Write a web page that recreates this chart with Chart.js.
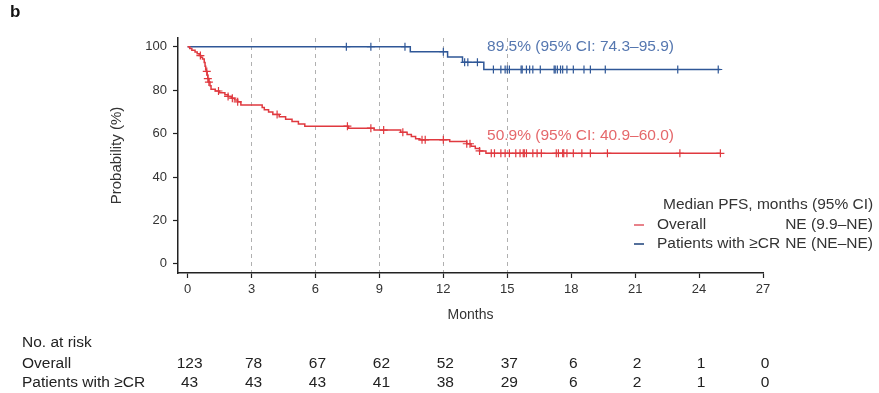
<!DOCTYPE html>
<html>
<head>
<meta charset="utf-8">
<script src="https://cdn.jsdelivr.net/npm/chart.js@4.4.1/dist/chart.umd.min.js"></script>
<style>
  html, body { margin: 0; padding: 0; background: #fff; }
  #wrap { width: 879px; height: 393px; position: relative; }
</style>
</head>
<body>
<div id="wrap"><canvas id="chart" width="879" height="393"></canvas></div>
<script>
// axis ticks (months / percent)
const xTicks = [0, 3, 6, 9, 12, 15, 18, 21, 24, 27];
const yTicks = [0, 20, 40, 60, 80, 100];
const dashedMonths = [3, 6, 9, 12, 15];

// Overall: KM step times and survival (%)
const overallTimes = [0, 0.1, 0.2, 0.35, 0.45, 0.55, 0.62, 0.7, 0.78, 0.82, 0.85, 0.88, 0.92, 0.95, 1.0, 1.05, 1.1, 1.3, 1.5, 1.75, 1.9, 2.05, 2.2, 2.35, 2.5, 3.5, 3.6, 3.8, 4.0, 4.3, 4.6, 4.9, 5.2, 5.5, 7.55, 8.75, 10.0, 10.3, 10.5, 10.7, 10.9, 12.3, 13.1, 13.3, 13.5, 13.7, 14.0, 25.0];
const overallSurv = [100, 99.2, 98.4, 97.6, 96.7, 95.9, 95.1, 94.3, 92.7, 91.0, 89.4, 88.6, 86.9, 85.3, 83.7, 82.0, 80.4, 79.6, 78.8, 77.9, 77.1, 76.3, 75.4, 74.6, 73.2, 72.0, 71.0, 69.9, 68.8, 67.7, 66.6, 65.5, 64.4, 63.4, 62.5, 61.6, 60.6, 59.6, 58.6, 57.6, 57.1, 56.3, 55.3, 54.2, 53.1, 52.0, 50.9, 50.9];
const overallCensor = [0.6, 0.9, 0.95, 1.0, 1.45, 1.9, 2.1, 2.35, 4.2, 7.5, 8.6, 9.2, 10.1, 11.0, 11.15, 12.0, 13.1, 13.25, 13.7, 14.25, 14.4, 14.7, 14.9, 15.1, 15.4, 15.6, 15.75, 15.8, 15.9, 16.2, 16.4, 16.6, 17.3, 17.4, 17.6, 17.65, 17.8, 18.1, 18.5, 18.9, 19.7, 23.1, 25.0];

// Patients with >=CR
const crTimes = [0, 10.45, 12.2, 12.9, 13.9, 25.0];
const crSurv = [100, 97.7, 95.3, 92.8, 89.5, 89.5];
const crCensor = [7.45, 8.6, 10.2, 12.0, 13.0, 13.15, 13.6, 14.35, 14.7, 14.9, 15.0, 15.1, 15.65, 15.7, 15.9, 16.05, 16.2, 16.55, 17.2, 17.25, 17.35, 17.5, 17.6, 17.8, 18.1, 18.6, 18.9, 19.6, 23.0, 24.9];

// number at risk
const riskMonths = [0, 3, 6, 9, 12, 15, 18, 21, 24, 27];
const riskOverall = [123, 78, 67, 62, 52, 37, 6, 2, 1, 0];
const riskCR = [43, 43, 43, 41, 38, 29, 6, 2, 1, 0];

const RED = "#e0393f";
const BLUE = "#2f5797";
const FONT = "'Liberation Sans', Arial, sans-serif";

function survAt(times, surv, t) {
  let v = surv[0];
  for (let i = 0; i < times.length; i++) {
    if (times[i] <= t) v = surv[i];
  }
  return v;
}

function toPoints(times, surv) {
  return times.map((t, i) => ({ x: t, y: surv[i] }));
}

function censorPoints(cens, times, surv) {
  return cens.map((t) => ({ x: t, y: survAt(times, surv, t) }));
}

const extras = {
  id: "extras",
  afterDatasetsDraw(chart) {
    const ctx = chart.ctx;
    const xs = chart.scales.x;
    const ys = chart.scales.y;
    ctx.save();

    // panel label
    ctx.fillStyle = "#111";
    ctx.font = "bold 17px " + FONT;
    ctx.textAlign = "left";
    ctx.textBaseline = "middle";
    ctx.fillText("b", 10, 12);

    // estimates
    ctx.font = "15.5px " + FONT;
    ctx.fillStyle = "#5577b0";
    ctx.fillText("89.5% (95% CI: 74.3\u201395.9)", xs.getPixelForValue(14.05), ys.getPixelForValue(100));
    ctx.fillStyle = "#e5686b";
    ctx.fillText("50.9% (95% CI: 40.9\u201360.0)", xs.getPixelForValue(14.05), ys.getPixelForValue(58.8));

    // legend
    const lx = 663, rx = 873;
    ctx.fillStyle = "#333";
    ctx.font = "15.5px " + FONT;
    ctx.fillText("Median PFS, months (95% CI)", lx, 205);
    ctx.lineWidth = 2;
    ctx.strokeStyle = "#e8828a";
    ctx.beginPath(); ctx.moveTo(lx - 29, 225); ctx.lineTo(lx - 19, 225); ctx.stroke();
    ctx.strokeStyle = "#54709b";
    ctx.beginPath(); ctx.moveTo(lx - 29, 244); ctx.lineTo(lx - 19, 244); ctx.stroke();
    ctx.fillText("Overall", lx - 6, 225);
    ctx.fillText("Patients with \u2265CR", lx - 6, 244);
    ctx.textAlign = "right";
    ctx.fillText("NE (9.9\u2013NE)", rx, 225);
    ctx.fillText("NE (NE\u2013NE)", rx, 244);

    // number at risk table
    ctx.font = "15.5px " + FONT;
    ctx.fillStyle = "#222";
    ctx.textAlign = "left";
    ctx.fillText("No. at risk", 22, 343);
    ctx.fillText("Overall", 22, 364);
    ctx.fillText("Patients with \u2265CR", 22, 383);
    ctx.textAlign = "center";
    riskMonths.forEach((m, i) => {
      const px = xs.getPixelForValue(m) + 2;
      ctx.fillText(String(riskOverall[i]), px, 364);
      ctx.fillText(String(riskCR[i]), px, 383);
    });
    ctx.restore();
  },
};

new Chart("chart", {
  type: "line",
  data: {
    datasets: [
      {
        label: "Overall",
        data: toPoints(overallTimes, overallSurv),
        borderColor: RED,
        borderWidth: 1.5,
        stepped: true,
        pointRadius: 0,
      },
      {
        label: "Patients with \u2265CR",
        data: toPoints(crTimes, crSurv),
        borderColor: BLUE,
        borderWidth: 1.5,
        stepped: true,
        pointRadius: 0,
      },
      {
        label: "Overall censored",
        data: censorPoints(overallCensor, overallTimes, overallSurv),
        showLine: false,
        pointStyle: "cross",
        pointRadius: 4,
        borderWidth: 1.2,
        borderColor: RED,
      },
      {
        label: "CR censored",
        data: censorPoints(crCensor, crTimes, crSurv),
        showLine: false,
        pointStyle: "cross",
        pointRadius: 4,
        borderWidth: 1.2,
        borderColor: BLUE,
      },
    ],
  },
  options: {
    responsive: false,
    animation: false,
    layout: { padding: { left: 108, right: 116, top: 38, bottom: 63 } },
    plugins: { legend: { display: false }, tooltip: { enabled: false } },
    scales: {
      x: {
        type: "linear",
        min: -0.45,
        max: 27,
        afterBuildTicks(scale) {
          scale.ticks = xTicks.map((v) => ({ value: v }));
        },
        afterFit(scale) {
          scale.height = 57;
        },
        border: { color: "#222", width: 1.5, dash: [4, 4] },
        grid: {
          color: (c) => (c.tick && dashedMonths.includes(c.tick.value) ? "#b0b0b0" : "rgba(0,0,0,0)"),
          lineWidth: 1,
          tickColor: "#222",
          tickLength: 5,
          tickWidth: 1.2,
          tickBorderDash: [],
        },
        ticks: { color: "#333", font: { family: FONT, size: 13 }, padding: 4, maxRotation: 0 },
        title: {
          display: true,
          text: "Months",
          color: "#333",
          font: { family: FONT, size: 14 },
          padding: { top: 0, bottom: 6 },
        },
      },
      y: {
        min: -4.2,
        max: 104,
        afterBuildTicks(scale) {
          scale.ticks = yTicks.map((v) => ({ value: v }));
        },
        afterFit(scale) {
          scale.width = 70;
        },
        border: { color: "#222", width: 1.5 },
        grid: {
          color: "rgba(0,0,0,0)",
          tickColor: "#222",
          tickLength: 5,
          tickWidth: 1.2,
        },
        ticks: { color: "#333", font: { family: FONT, size: 13 }, padding: 6 },
        title: {
          display: true,
          text: "Probability (%)",
          color: "#333",
          font: { family: FONT, size: 15 },
          padding: { top: 0, bottom: 0 },
        },
      },
    },
  },
  plugins: [extras],
});
</script>
</body>
</html>
